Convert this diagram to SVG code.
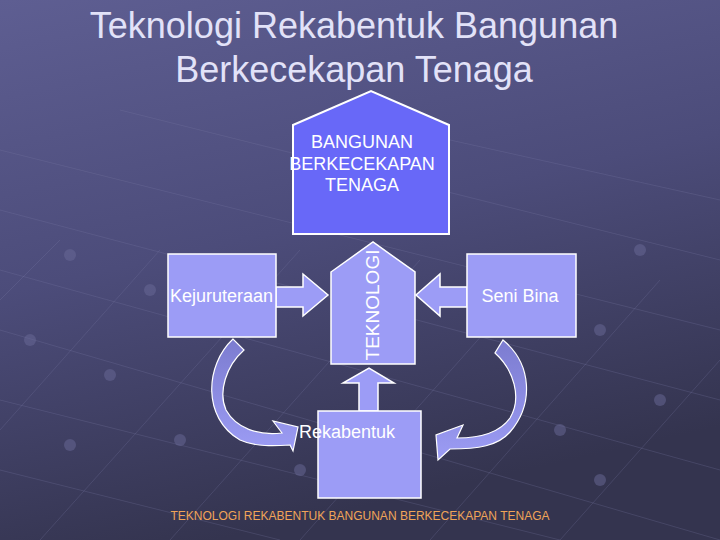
<svg xmlns="http://www.w3.org/2000/svg" width="720" height="540" viewBox="0 0 720 540">
<defs>
<linearGradient id="bg" x1="0" y1="0" x2="0.3" y2="1">
<stop offset="0" stop-color="#5e5e92"/>
<stop offset="0.5" stop-color="#4c4c7a"/>
<stop offset="1" stop-color="#34344f"/>
</linearGradient>
<linearGradient id="cg" x1="0" y1="0" x2="0" y2="1">
<stop offset="0" stop-color="#7c7cd0"/>
<stop offset="1" stop-color="#9c9cf4"/>
</linearGradient>
<style>
.t{font-family:"Liberation Sans",Arial,sans-serif;fill:#ffffff;font-size:18px}
.ttl{font-family:"Liberation Sans",Arial,sans-serif;font-size:36px;fill:#e2e2f8}
.box{fill:#9c9cf6;stroke:#ffffff;stroke-width:1.5}
.curve{fill:url(#cg);stroke:#ffffff;stroke-width:1.2}
.grid{stroke:#7a7aa8;stroke-width:1;opacity:0.25;fill:none}
.dot{fill:#6a6a98;opacity:0.5}
</style>
</defs>
<rect width="720" height="540" fill="url(#bg)"/>
<g id="background">
<path class="grid" d="M0,150 L720,330 M0,210 L720,400 M0,270 L720,470 M0,330 L720,540 M0,400 L560,540 M0,470 L280,540 M120,110 L720,260 M360,120 L720,200"/>
<path class="grid" d="M40,540 L300,250 M170,540 L420,260 M300,540 L540,270 M430,540 L660,280 M560,540 L720,360 M0,430 L160,250 M0,300 L60,240"/>
<circle class="dot" cx="70" cy="255" r="6"/><circle class="dot" cx="150" cy="290" r="6"/><circle class="dot" cx="30" cy="340" r="6"/><circle class="dot" cx="110" cy="375" r="6"/><circle class="dot" cx="70" cy="445" r="6"/><circle class="dot" cx="180" cy="440" r="6"/><circle class="dot" cx="640" cy="250" r="6"/><circle class="dot" cx="600" cy="330" r="6"/><circle class="dot" cx="660" cy="400" r="6"/><circle class="dot" cx="560" cy="430" r="6"/><circle class="dot" cx="600" cy="480" r="6"/><circle class="dot" cx="300" cy="470" r="6"/>
</g>
<g id="title">
<text class="ttl" x="354" y="38" text-anchor="middle">Teknologi Rekabentuk Bangunan</text>
<text class="ttl" x="354" y="82" text-anchor="middle">Berkecekapan Tenaga</text>
</g>
<g id="connectors">
<polygon class="box" points="276,287 303,287 303,274 328,295 303,316 303,307 276,307"/>
<polygon class="box" points="467,287 440,287 440,274 416,295 440,316 440,307 467,307"/>
<polygon class="box" points="359,411 359,383 343,383 369,368 394,383 378,383 378,411"/>
<path class="curve" d="M233,339 C205,365 202,418 240,440 C255,447 275,446 290,445 L293,451 L298,427 L273,421 L282,433 C258,436 236,428 226,410 C218,392 226,366 244,350 Z"/>
<path class="curve" d="M503,340 C532,364 534,404 510,432 C498,446 478,449 450,449 L438,460 L436,435 L463,425 L457,438 C482,438 500,432 510,418 C522,398 514,370 495,353 Z"/>
</g>
<g id="node-bangunan">
<polygon points="293,125 371,91 449,125 449,234 293,234" fill="#6868f8" stroke="#ffffff" stroke-width="2"/>
<text class="t" x="362" y="148" text-anchor="middle">BANGUNAN</text>
<text class="t" x="362" y="170" text-anchor="middle">BERKECEKAPAN</text>
<text class="t" x="362" y="191" text-anchor="middle">TENAGA</text>
</g>
<g id="node-teknologi">
<polygon class="box" points="331,272 373,242 415,272 415,364 331,364"/>
<text class="t" transform="translate(379,305) rotate(-90)" text-anchor="middle" style="font-size:19px">TEKNOLOGI</text>
</g>
<g id="node-kejuruteraan">
<rect class="box" x="168" y="254" width="108" height="83"/>
<text class="t" x="170" y="302">Kejuruteraan</text>
</g>
<g id="node-senibina">
<rect class="box" x="467" y="254" width="109" height="83"/>
<text class="t" x="520" y="302" text-anchor="middle">Seni Bina</text>
</g>
<g id="node-rekabentuk">
<rect class="box" x="318" y="411" width="103" height="87"/>
<text class="t" x="347" y="438" text-anchor="middle">Rekabentuk</text>
</g>
<g id="footer">
<text x="360" y="520" text-anchor="middle" style="font-family:'Liberation Sans',Arial,sans-serif;font-size:12px;fill:#f0a458">TEKNOLOGI REKABENTUK BANGUNAN BERKECEKAPAN TENAGA</text>
</g>
</svg>
